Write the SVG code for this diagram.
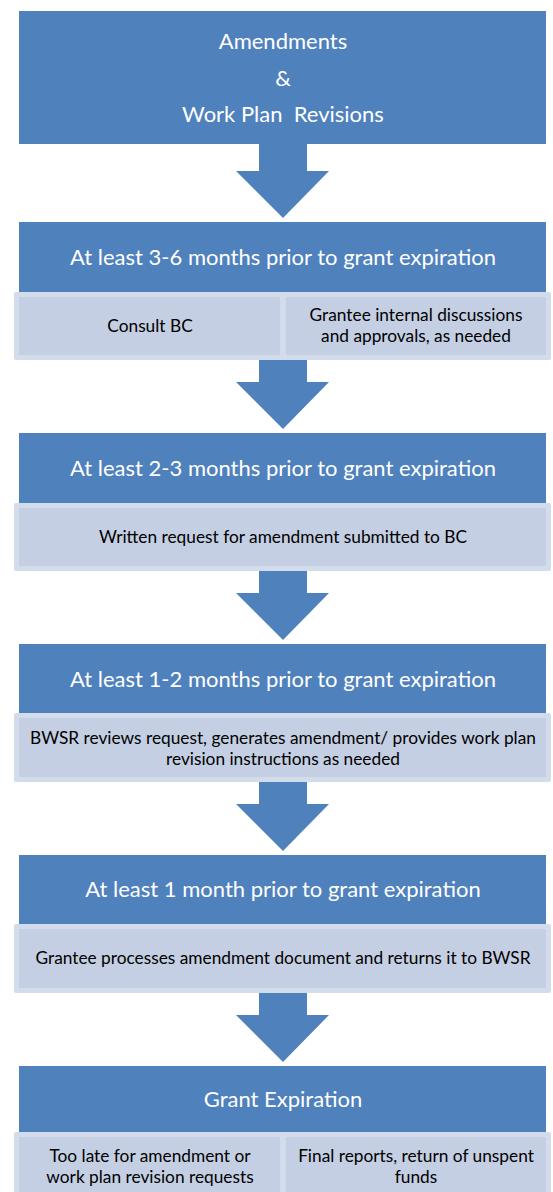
<svg xmlns="http://www.w3.org/2000/svg" width="553" height="1192" viewBox="0 0 553 1192">
  <style>
    .hdr { fill: #4F81BD; }
    .rim { fill: #D3DCEA; }
    .cell { fill: #C4CFE3; }
    .arrow { fill: #4F81BD; }
    .ht { font-family: Lato, "Open Sans", sans-serif; font-size: 22px; fill: #FFFFFF; text-anchor: middle; }
    .ct { font-family: Lato, "Open Sans", sans-serif; font-size: 17.3px; fill: #000000; text-anchor: middle; }
  </style>
  <rect width="553" height="1192" fill="#FFFFFF"/>

  <g id="connectors">
    <polygon class="arrow" points="259,144 307,144 307,171 329,171 283,218 236,171 259,171"/>
    <polygon class="arrow" points="259,360 307,360 307,382 329,382 283,429 236,382 259,382"/>
    <polygon class="arrow" points="259,571 307,571 307,593 329,593 283,640 236,593 259,593"/>
    <polygon class="arrow" points="259,782 307,782 307,804 329,804 283,851 236,804 259,804"/>
    <polygon class="arrow" points="259,993 307,993 307,1015 329,1015 283,1062 236,1015 259,1015"/>
  </g>

  <g id="title">
    <rect class="hdr" x="19" y="11" width="527" height="133"/>
    <text class="ht" x="283" y="49">Amendments</text>
    <text class="ht" x="283" y="86">&amp;</text>
    <text class="ht" x="283" y="122" xml:space="preserve">Work Plan  Revisions</text>
  </g>

  <g id="step1">
    <rect class="hdr" x="19" y="222" width="527" height="70"/>
    <text class="ht" x="283" y="265">At least 3-6 months prior to grant expiration</text>
    <rect class="rim" x="14" y="292" width="537" height="68" rx="2"/>
    <rect class="cell" x="19" y="297" width="261" height="58"/>
    <rect class="cell" x="286" y="297" width="260" height="58"/>
    <text class="ct" x="150" y="332">Consult BC</text>
    <text class="ct" x="416" y="321">Grantee internal discussions</text>
    <text class="ct" x="416" y="342">and approvals, as needed</text>
  </g>

  <g id="step2">
    <rect class="hdr" x="19" y="433" width="527" height="70"/>
    <text class="ht" x="283" y="476">At least 2-3 months prior to grant expiration</text>
    <rect class="rim" x="14" y="503" width="537" height="68" rx="2"/>
    <rect class="cell" x="19" y="508" width="527" height="58"/>
    <text class="ct" x="283" y="543">Written request for amendment submitted to BC</text>
  </g>

  <g id="step3">
    <rect class="hdr" x="19" y="644" width="527" height="69"/>
    <text class="ht" x="283" y="687">At least 1-2 months prior to grant expiration</text>
    <rect class="rim" x="14" y="713" width="537" height="69" rx="2"/>
    <rect class="cell" x="19" y="718" width="527" height="59"/>
    <text class="ct" x="283" y="744">BWSR reviews request, generates amendment/ provides work plan</text>
    <text class="ct" x="283" y="765">revision instructions as needed</text>
  </g>

  <g id="step4">
    <rect class="hdr" x="19" y="855" width="527" height="69"/>
    <text class="ht" x="283" y="897">At least 1 month prior to grant expiration</text>
    <rect class="rim" x="14" y="924" width="537" height="69" rx="2"/>
    <rect class="cell" x="19" y="929" width="527" height="59"/>
    <text class="ct" x="283" y="964">Grantee processes amendment document and returns it to BWSR</text>
  </g>

  <g id="step5">
    <rect class="hdr" x="19" y="1066" width="527" height="66"/>
    <text class="ht" x="283" y="1107">Grant Expiration</text>
    <rect class="rim" x="14" y="1132" width="537" height="70" rx="2"/>
    <rect class="cell" x="19" y="1137" width="261" height="60"/>
    <rect class="cell" x="286" y="1137" width="260" height="60"/>
    <text class="ct" x="150" y="1162">Too late for amendment or</text>
    <text class="ct" x="150" y="1183">work plan revision requests</text>
    <text class="ct" x="416" y="1162">Final reports, return of unspent</text>
    <text class="ct" x="416" y="1183">funds</text>
  </g>
</svg>
